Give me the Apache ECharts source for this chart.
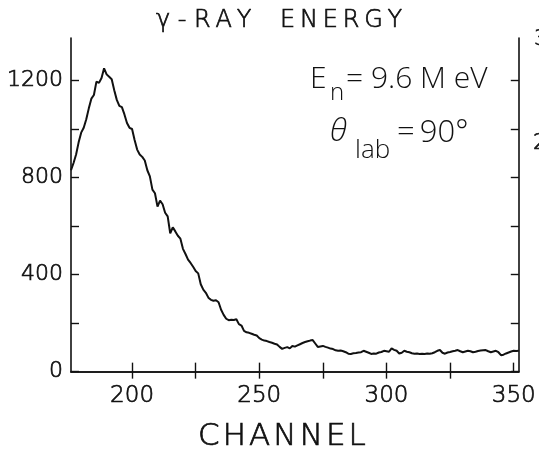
<!DOCTYPE html>
<html>
<head>
<meta charset="utf-8">
<script src="https://cdn.jsdelivr.net/npm/echarts@6/dist/echarts.min.js"></script>
<style>html,body{margin:0;padding:0;background:#fff}#c{width:539px;height:458px}</style>
</head>
<body>
<div id="c"></div>
<script>
// Channels 176..352, counts
const channels = [];
for (let c = 176; c <= 352; c++) channels.push(c);
const counts = [
 830, 860, 895, 945, 985,1005,1040,1085,1125,1140, // 176-185
1195,1190,1210,1250,1225,1215,1205,1160,1120,1095, // 186-195
1090,1060,1025,1005,1000, 955, 915, 895, 885, 870, // 196-205
 830, 805, 750, 735, 680, 705, 690, 655, 640, 570, // 206-215
 595, 578, 560, 548, 506, 485, 462, 448, 432, 415, // 216-225
 405, 360, 338, 325, 305, 296, 292, 294, 286, 255, // 226-235
 234, 218, 212, 214, 213, 216, 196, 190, 168, 162, // 236-245
 160, 156, 152, 149, 138, 132, 128, 126, 122, 119, // 246-255
 115, 112, 102,  94,  98, 101,  96, 106, 103, 108, // 256-265
 113, 118, 122, 125, 128, 130, 116, 102, 104, 106, // 266-275
 102,  99,  95,  93,  88,  86,  87,  84,  80,  74, // 276-285
  73,  76,  77,  79,  80,  86,  82,  78,  73,  75, // 286-295
  74,  79,  81,  86,  84,  82,  96,  90,  86,  75, // 296-305
  78,  86,  82,  80,  76,  74,  75,  73,  74,  73, // 306-315
  75,  74,  76,  80,  86,  89,  78,  74,  79,  81, // 316-325
  84,  86,  89,  84,  80,  83,  86,  84,  80,  82, // 326-335
  85,  87,  88,  89,  84,  80,  83,  86,  80,  68, // 336-345
  70,  75,  79,  83,  86,  85,  86                 // 346-352
];
const xTicks = [200, 225, 250, 275, 300, 325, 350];
const xTopTicks = [200, 225, 250, 275, 300, 325];
const xLabels = [200, 250, 300, 350];
const yTicks = [0, 200, 400, 600, 800, 1000, 1200];
const yLabels = [0, 400, 800, 1200];

const AX_FONT = '"DejaVu Sans", sans-serif';
const AX_W = 200;
const FONT = '"Open Sans", "DejaVu Sans", sans-serif';
const W = 300;
const INK = '#111';
const TS = '\u2009';
const HS = '\u200A';
const spaced = (s, sep) => s.split('').join(sep);
const chart = echarts.init(document.getElementById('c'), null, {renderer: 'canvas'});
const axisLine = {show: true, lineStyle: {color: INK, width: 1.6}};
const tick = (vals, len) => ({show: true, inside: true, length: len, customValues: vals, lineStyle: {color: INK, width: 1.4}});
const axText = size => ({fontSize: size, color: INK, fontFamily: AX_FONT, fontWeight: AX_W, textBorderColor: INK, textBorderWidth: 0.7});
const txt = (x, y, text, size, extra) => ({type: 'text', x, y, style: Object.assign({text, fontSize: size, fill: INK, fontFamily: FONT, fontWeight: W}, extra || {})});
const axTxt = (x, y, text, size) => ({type: 'text', x, y, style: {text, fontSize: size, fill: INK, fontFamily: AX_FONT, fontWeight: AX_W, stroke: INK, lineWidth: 0.7}});
chart.setOption({
  animation: false,
  backgroundColor: '#fff',
  grid: {left: 71, right: 19, top: 38, bottom: 74},
  xAxis: [{
    type: 'value', min: 176, max: 352, position: 'bottom',
    axisLine, axisTick: tick(xTicks, 9), splitLine: {show: false},
    axisLabel: Object.assign({customValues: xLabels, margin: 13, formatter: v => String(v)}, axText(23)),
    name: spaced('CHANNEL', HS), nameLocation: 'middle', nameGap: 50,
    nameTextStyle: Object.assign({padding: [0, 26, 0, 0]}, axText(31))
  }, {
    type: 'value', min: 176, max: 352, position: 'top',
    axisLine, axisTick: tick(xTopTicks, 7), splitLine: {show: false}, axisLabel: {show: false}
  }],
  yAxis: [{
    type: 'value', min: 0, max: 1375, position: 'left',
    axisLine, axisTick: tick(yTicks, 8), splitLine: {show: false},
    axisLabel: Object.assign({customValues: yLabels, margin: 8, formatter: v => String(v)}, axText(22))
  }, {
    type: 'value', min: 0, max: 1375, position: 'right',
    axisLine, axisTick: tick(yTicks, 8), splitLine: {show: false}, axisLabel: {show: false}
  }],
  series: [{
    type: 'line', xAxisIndex: 0, yAxisIndex: 0,
    data: channels.map((c, i) => [c, counts[i]]),
    showSymbol: false, smooth: false,
    lineStyle: {color: INK, width: 2}
  }],
  graphic: [
    axTxt(156, 9, 'γ - ' + spaced('RAY', TS), 24),
    axTxt(280, 9, spaced('ENERGY', TS), 24),
    txt(310, 64, 'E', 30),
    txt(330, 81, 'n', 24),
    txt(346, 64, '= 9.6 M eV', 30),
    txt(330, 117, 'θ', 31, {fontStyle: 'italic'}),
    txt(355, 138, 'lab', 26),
    txt(397, 118, '=' + TS + '90°', 31),
    axTxt(534, 28, '3', 22),
    axTxt(533, 132, '2', 22)
  ]
});
</script>
</body>
</html>
